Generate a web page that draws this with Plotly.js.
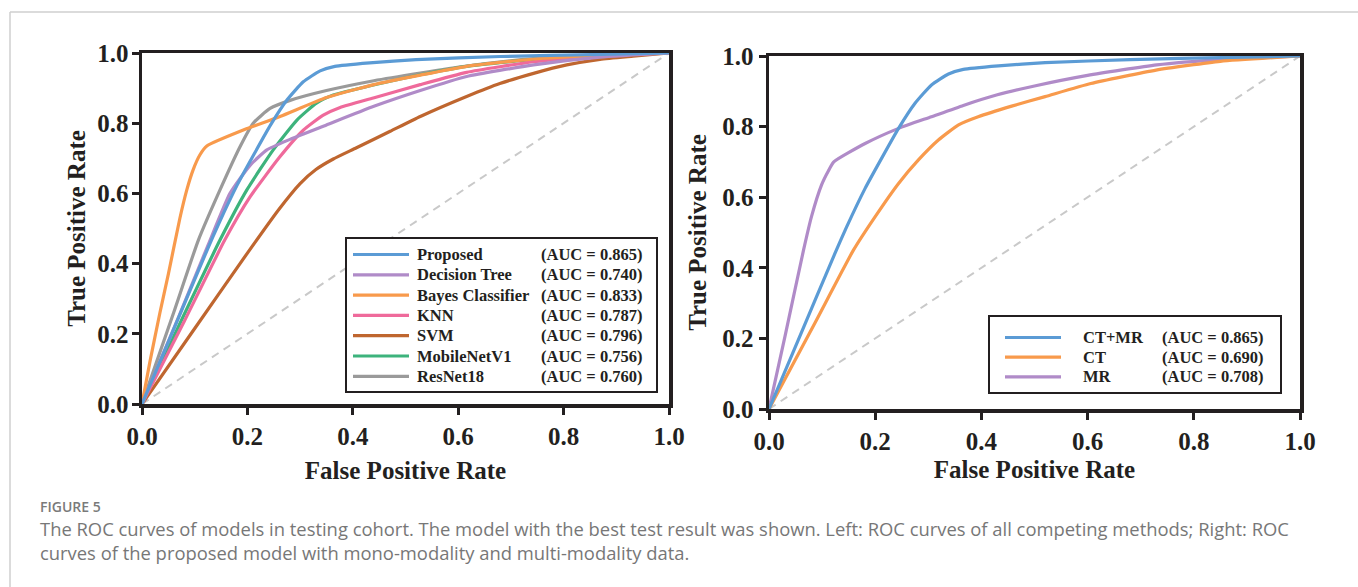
<!DOCTYPE html>
<html>
<head>
<meta charset="utf-8">
<script src="https://cdn.plot.ly/plotly-3.0.1.min.js"></script>
<style>html,body{margin:0;padding:0;background:#fff;}#chart{width:1358px;height:587px;}</style>
</head>
<body>
<div id="chart"></div>
<script>
// ---------------- DATA ----------------
const tickVals = [0, 0.2, 0.4, 0.6, 0.8, 1.0];
const tickLabels = ['0.0', '0.2', '0.4', '0.6', '0.8', '1.0'];

// Left panel: all competing methods
const leftNames = ['Proposed', 'Decision Tree', 'Bayes Classifier', 'KNN', 'SVM', 'MobileNetV1', 'ResNet18'];
const leftAUC = [0.865, 0.740, 0.833, 0.787, 0.796, 0.756, 0.760];

const proposedFpr = [0, 0.055, 0.124, 0.146, 0.181, 0.212, 0.244, 0.275, 0.306, 0.338, 0.366, 0.432, 0.52, 0.68, 0.87, 1];
const proposedTpr = [0, 0.195, 0.44, 0.515, 0.625, 0.71, 0.795, 0.866, 0.918, 0.949, 0.962, 0.972, 0.981, 0.99, 0.996, 1];

const treeFpr = [0, 0.07, 0.126, 0.167, 0.205, 0.237, 0.281, 0.35, 0.44, 0.528, 0.616, 0.743, 0.869, 1];
const treeTpr = [0, 0.25, 0.455, 0.60, 0.68, 0.724, 0.754, 0.795, 0.848, 0.893, 0.933, 0.966, 0.988, 1];

const bayesFpr = [0, 0.015, 0.034, 0.05, 0.072, 0.085, 0.097, 0.11, 0.123, 0.2, 0.262, 0.35, 0.44, 0.528, 0.616, 0.743, 0.869, 1];
const bayesTpr = [0, 0.12, 0.26, 0.37, 0.53, 0.61, 0.667, 0.71, 0.735, 0.785, 0.819, 0.873, 0.91, 0.937, 0.962, 0.983, 0.993, 1];

const knnFpr = [0, 0.08, 0.157, 0.205, 0.262, 0.306, 0.344, 0.376, 0.439, 0.528, 0.616, 0.743, 0.869, 1];
const knnTpr = [0, 0.235, 0.467, 0.59, 0.705, 0.78, 0.823, 0.845, 0.872, 0.91, 0.945, 0.975, 0.991, 1];

const svmFpr = [0, 0.1, 0.2, 0.26, 0.3, 0.33, 0.363, 0.407, 0.471, 0.528, 0.616, 0.679, 0.743, 0.806, 0.869, 0.932, 1];
const svmTpr = [0, 0.215, 0.43, 0.555, 0.628, 0.668, 0.698, 0.73, 0.777, 0.819, 0.876, 0.913, 0.942, 0.966, 0.982, 0.991, 1];

const mobileFpr = [0, 0.08, 0.148, 0.199, 0.249, 0.294, 0.331, 0.363, 0.439, 0.528, 0.616, 0.743, 0.869, 1];
const mobileTpr = [0, 0.255, 0.467, 0.61, 0.724, 0.809, 0.857, 0.88, 0.909, 0.938, 0.962, 0.982, 0.993, 1];

const resnetFpr = [0, 0.06, 0.107, 0.148, 0.186, 0.211, 0.243, 0.281, 0.35, 0.44, 0.528, 0.616, 0.743, 0.869, 1];
const resnetTpr = [0, 0.26, 0.467, 0.61, 0.733, 0.80, 0.842, 0.865, 0.893, 0.921, 0.943, 0.963, 0.984, 0.995, 1];

// Right panel: modalities
const rightNames = ['CT+MR', 'CT', 'MR'];
const rightAUC = [0.865, 0.690, 0.708];

const ctmrFpr = [0, 0.055, 0.124, 0.146, 0.181, 0.212, 0.244, 0.275, 0.306, 0.338, 0.366, 0.432, 0.52, 0.68, 0.87, 1];
const ctmrTpr = [0, 0.195, 0.44, 0.515, 0.625, 0.71, 0.795, 0.866, 0.918, 0.949, 0.962, 0.972, 0.981, 0.99, 0.996, 1];

const ctFpr = [0, 0.087, 0.159, 0.2, 0.244, 0.281, 0.319, 0.357, 0.394, 0.457, 0.52, 0.606, 0.729, 0.85, 1];
const ctTpr = [0, 0.245, 0.45, 0.545, 0.639, 0.705, 0.762, 0.805, 0.828, 0.858, 0.885, 0.922, 0.96, 0.985, 1];

const mrFpr = [0, 0.03, 0.065, 0.08, 0.099, 0.112, 0.122, 0.181, 0.244, 0.306, 0.366, 0.43, 0.5, 0.6, 0.73, 0.85, 1];
const mrTpr = [0, 0.205, 0.45, 0.545, 0.635, 0.675, 0.70, 0.752, 0.795, 0.828, 0.86, 0.89, 0.915, 0.945, 0.975, 0.99, 1];

const chanceLine = [0, 1];

const captionLabel = 'FIGURE 5';
const captionLines = [
  'The ROC curves of models in testing cohort. The model with the best test result was shown. Left: ROC curves of all competing methods; Right: ROC',
  'curves of the proposed model with mono-modality and multi-modality data.'
];

// ---------------- STYLE ----------------
const W = 1358, H = 587;
const px = x => x / W;
const py = y => 1 - y / H;
const SERIF = 'Liberation Serif, Times New Roman, serif';
const INK = '#231f20';

const leftColors = ['#5b9bd5', '#b08bc8', '#f89a4c', '#ef6a9b', '#bf662f', '#3db37c', '#9a9a9a'];
const rightColors = ['#5b9bd5', '#f89a4c', '#b08bc8'];

const leftSeries = [
  [proposedFpr, proposedTpr], [treeFpr, treeTpr], [bayesFpr, bayesTpr], [knnFpr, knnTpr],
  [svmFpr, svmTpr], [mobileFpr, mobileTpr], [resnetFpr, resnetTpr]
];
const rightSeries = [[ctmrFpr, ctmrTpr], [ctFpr, ctTpr], [mrFpr, mrTpr]];

const traces = [];
function chance(xa, ya) {
  traces.push({x: chanceLine, y: chanceLine, xaxis: xa, yaxis: ya, mode: 'lines', showlegend: false,
    hoverinfo: 'skip', line: {color: '#c9c9c9', width: 2, dash: '8px,6px'}});
}
chance('x', 'y');
for (let i = leftSeries.length - 1; i >= 0; i--) {
  traces.push({x: leftSeries[i][0], y: leftSeries[i][1], xaxis: 'x', yaxis: 'y', mode: 'lines', name: leftNames[i],
    showlegend: false, line: {color: leftColors[i], width: 3.2, shape: 'spline', smoothing: 0.5}});
}
chance('x2', 'y2');
for (let i = rightSeries.length - 1; i >= 0; i--) {
  traces.push({x: rightSeries[i][0], y: rightSeries[i][1], xaxis: 'x2', yaxis: 'y2', mode: 'lines', name: rightNames[i],
    showlegend: false, line: {color: rightColors[i], width: 3.2, shape: 'spline', smoothing: 0.5}});
}

function axis(domain, anchor, title, standoff, labelShift) {
  return {
    domain: domain, anchor: anchor, range: [0, 1], fixedrange: true,
    showgrid: false, zeroline: false, showline: true, mirror: true,
    linecolor: INK, linewidth: 3.5,
    ticks: 'outside', ticklen: 7, tickwidth: 3, tickcolor: INK,
    tickvals: tickVals, ticktext: tickLabels, ticklabelstandoff: labelShift,
    tickfont: {family: SERIF, size: 25, color: INK, weight: 'bold'},
    title: {text: title, font: {family: SERIF, size: 25, color: INK, weight: 'bold'}, standoff: standoff}
  };
}

const shapes = [
  {type: 'line', xref: 'paper', yref: 'paper', x0: px(10), x1: px(W), y0: py(12), y1: py(12), line: {color: '#cfcfcf', width: 1.5}},
  {type: 'line', xref: 'paper', yref: 'paper', x0: px(10), x1: px(10), y0: py(12), y1: py(H), line: {color: '#cfcfcf', width: 1.5}}
];
const annotations = [];

function legendBlock(names, auc, colors, box, lineX0, lineX1, nameX, aucX, rowY0, rowGap) {
  shapes.push({type: 'rect', xref: 'paper', yref: 'paper', x0: px(box[0]), x1: px(box[1]), y0: py(box[2]), y1: py(box[3]),
    line: {color: INK, width: 2}, fillcolor: 'rgba(255,255,255,1)', layer: 'above'});
  names.forEach((n, i) => {
    const y = rowY0 + i * rowGap;
    shapes.push({type: 'line', xref: 'paper', yref: 'paper', x0: px(lineX0), x1: px(lineX1), y0: py(y), y1: py(y),
      line: {color: colors[i], width: 3.2}, layer: 'above'});
    annotations.push({xref: 'paper', yref: 'paper', x: px(nameX), y: py(y), xanchor: 'left', yanchor: 'middle', showarrow: false,
      text: n, font: {family: SERIF, size: 16.5, color: INK, weight: 'bold'}});
    annotations.push({xref: 'paper', yref: 'paper', x: px(aucX), y: py(y), xanchor: 'left', yanchor: 'middle', showarrow: false,
      text: '(AUC = ' + auc[i].toFixed(3) + ')', font: {family: SERIF, size: 16.5, color: INK, weight: 'bold'}});
  });
}
legendBlock(leftNames, leftAUC, leftColors, [346, 657, 238, 392], 353, 409, 415, 539, 254.5, 20.3);
legendBlock(rightNames, rightAUC, rightColors, [989, 1281, 316, 393], 1005, 1061, 1081, 1160, 337.5, 19.7);

annotations.push({xref: 'paper', yref: 'paper', x: px(39), y: py(506.5), xanchor: 'left', yanchor: 'middle', showarrow: false,
  borderpad: 0, text: captionLabel, font: {family: 'Open Sans', size: 14, color: '#7a7a7a', weight: 600}});
annotations.push({xref: 'paper', yref: 'paper', x: px(39), y: py(540.5), xanchor: 'left', yanchor: 'middle', showarrow: false,
  borderpad: 0, align: 'left', text: captionLines.join('<br>'), font: {family: 'Open Sans', size: 18.4, color: '#777777'}});

const layout = {
  width: W, height: H, margin: {l: 0, r: 0, t: 0, b: 0},
  paper_bgcolor: '#ffffff', plot_bgcolor: '#ffffff', showlegend: false,
  xaxis: axis([px(142), px(669)], 'y', 'False Positive Rate', 14, 0),
  yaxis: axis([py(404), py(53)], 'x', 'True Positive Rate', 5, -2),
  xaxis2: axis([px(769), px(1300)], 'y2', 'False Positive Rate', 8, 0),
  yaxis2: axis([py(409), py(56)], 'x2', 'True Positive Rate', 9, 0),
  shapes: shapes, annotations: annotations
};

Plotly.newPlot('chart', traces, layout, {displayModeBar: false, staticPlot: true});
</script>
</body>
</html>
